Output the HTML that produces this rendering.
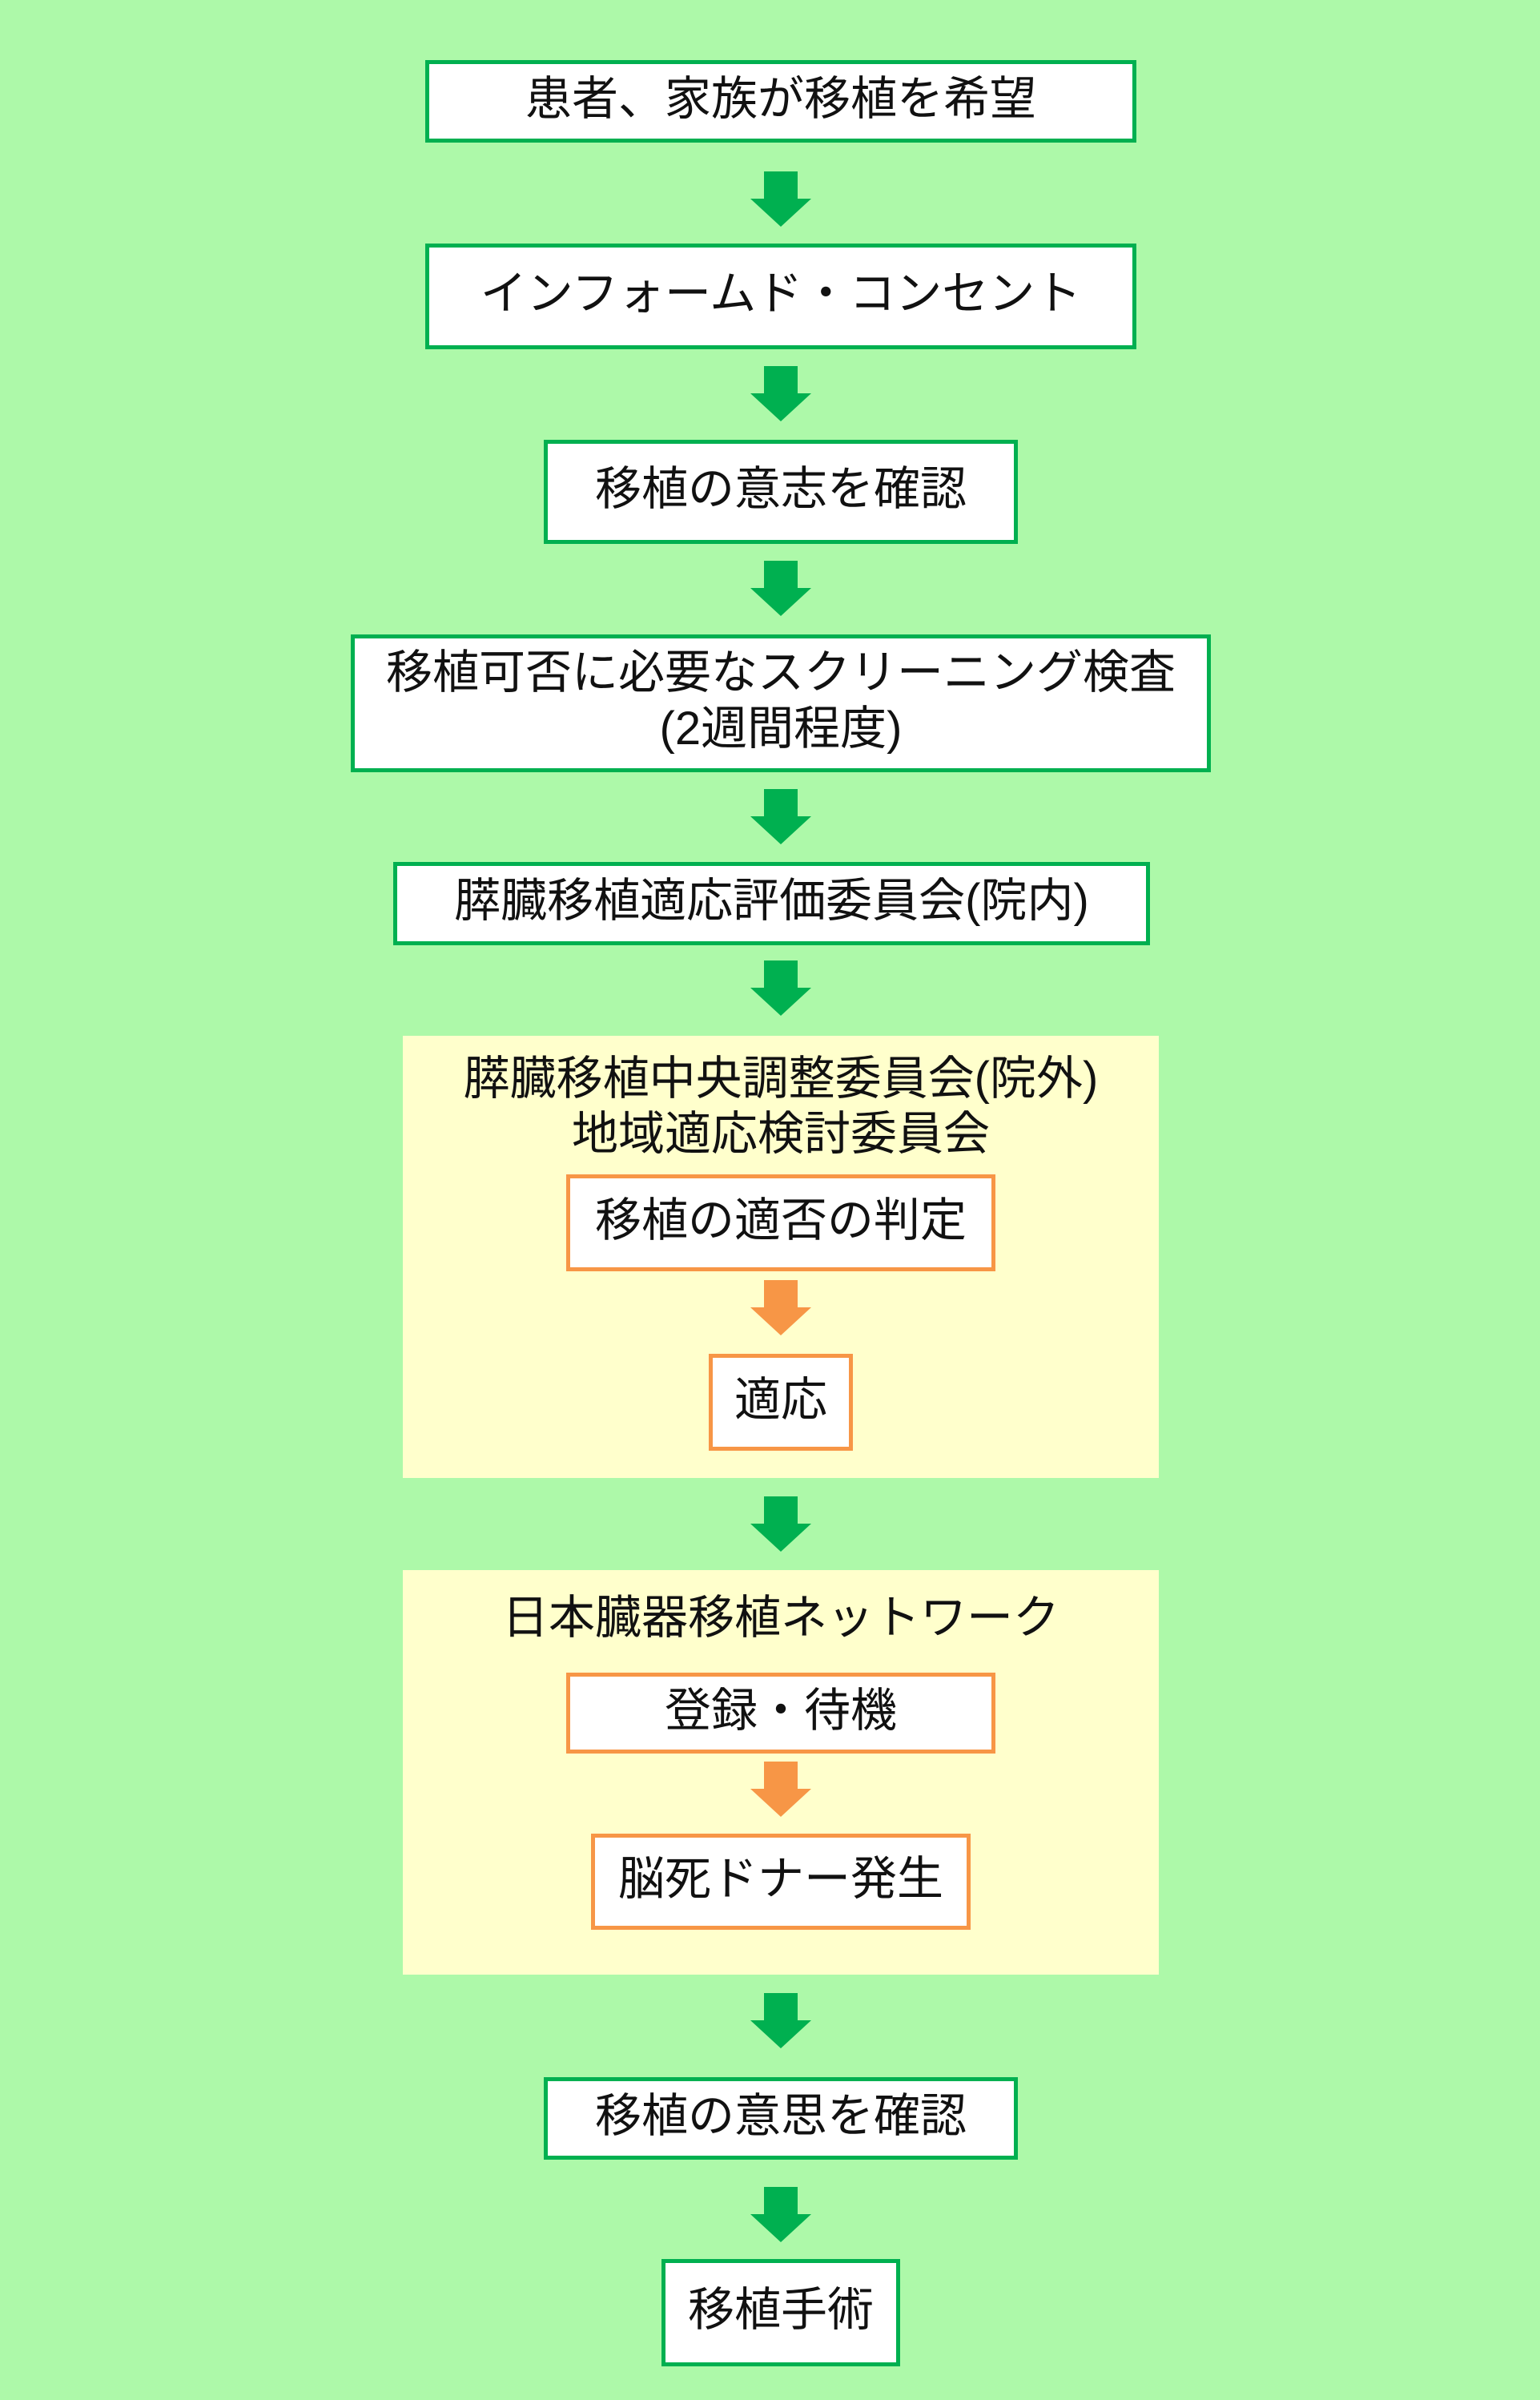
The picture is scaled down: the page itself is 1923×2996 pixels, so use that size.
<!DOCTYPE html>
<html><head><meta charset="utf-8"><style>
body{margin:0;width:1923px;height:2996px;background:#adf9a9;position:relative;overflow:hidden;font-family:"Liberation Sans","Noto Sans CJK JP",sans-serif;}
.b{position:absolute;box-sizing:border-box;background:#fff;border:5px solid #00b050;display:flex;align-items:center;justify-content:center;text-align:center;font-size:58px;line-height:1.2;color:#111;padding-bottom:6px;}
.o{border-color:#f79646;}
.p{position:absolute;background:#ffffcc;}
.t{position:absolute;left:0;width:100%;text-align:center;font-size:58px;line-height:69px;color:#111;}
svg{position:absolute;}
</style></head><body>
<div class="b" style="left:531px;top:75px;width:888px;height:103px">患者、家族が移植を希望</div>
<div class="b" style="left:531px;top:304px;width:888px;height:132px">インフォームド・コンセント</div>
<div class="b" style="left:679px;top:549px;width:592px;height:130px">移植の意志を確認</div>
<div class="b" style="left:438px;top:792px;width:1074px;height:172px">移植可否に必要なスクリーニング検査<br>(2週間程度)</div>
<div class="b" style="left:491px;top:1076px;width:945px;height:104px">膵臓移植適応評価委員会(院内)</div>
<div class="p" style="left:503px;top:1293px;width:944px;height:552px">
<div class="t" style="top:19px">膵臓移植中央調整委員会(院外)<br>地域適応検討委員会</div></div>
<div class="b o" style="left:707px;top:1466px;width:536px;height:121px">移植の適否の判定</div>
<div class="b o" style="left:885px;top:1690px;width:180px;height:121px">適応</div>
<div class="p" style="left:503px;top:1960px;width:944px;height:505px">
<div class="t" style="top:25px">日本臓器移植ネットワーク</div></div>
<div class="b o" style="left:707px;top:2088px;width:536px;height:101px">登録・待機</div>
<div class="b o" style="left:738px;top:2289px;width:474px;height:120px">脳死ドナー発生</div>
<div class="b" style="left:679px;top:2593px;width:592px;height:103px">移植の意思を確認</div>
<div class="b" style="left:826px;top:2820px;width:298px;height:134px">移植手術</div>
<svg width="1923" height="2996" style="left:0;top:0">
<defs><path id="a" d="M-21 0H21V34H38L0 69L-38 34H-21Z"/></defs>
<g fill="#00b050">
<use href="#a" x="975" y="214"/><use href="#a" x="975" y="457"/><use href="#a" x="975" y="700"/>
<use href="#a" x="975" y="985"/><use href="#a" x="975" y="1199"/><use href="#a" x="975" y="1868"/>
<use href="#a" x="975" y="2488"/><use href="#a" x="975" y="2730"/></g>
<g fill="#f79646"><use href="#a" x="975" y="1598"/><use href="#a" x="975" y="2199"/></g>
</svg>
</body></html>
